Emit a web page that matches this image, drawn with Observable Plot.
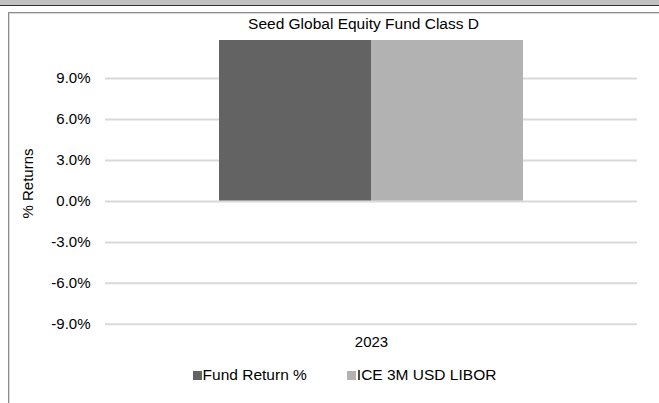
<!DOCTYPE html>
<html>
<head>
<meta charset="utf-8">
<script src="https://cdn.jsdelivr.net/npm/d3@7"></script>
<script src="https://cdn.jsdelivr.net/npm/@observablehq/plot@0.6"></script>
<style>
  html, body { margin: 0; padding: 0; background: #fff; }
  body { width: 659px; height: 403px; position: relative; overflow: hidden; font-family: "Liberation Sans", Arial, sans-serif; }
  #band { position: absolute; left: 0; top: 0; width: 659px; height: 5px; background: #c0c0c0; border-bottom: 1px solid #303030; }
  #frame { position: absolute; left: 8px; top: 12px; width: 660px; height: 400px; border-left: 1px solid #8c8c8c; border-top: 1px solid #8c8c8c; box-shadow: inset 1px 1px 0 #d8d8d8; }
  #title { position: absolute; left: 0; width: 659px; top: 15px; text-align: center; font-size: 15.5px; color: #000; padding-left: 68px; box-sizing: border-box; }
  #chart { position: absolute; left: 0; top: 0; width: 659px; height: 403px; }
  #legend { position: absolute; top: 366px; left: 0; width: 659px; display: flex; justify-content: center; font-size: 15.5px; color: #000; padding-left: 30px; box-sizing: border-box; }
  .item { display: flex; align-items: center; margin: 0 20px; }
  .sw { width: 9px; height: 9px; margin-right: 1px; }
</style>
</head>
<body>
<div id="band"></div>
<div id="frame"></div>
<div id="chart"></div>
<div id="title"></div>
<div id="legend"></div>
<script>
const title = "Seed Global Equity Fund Class D";
const years = ["2023"];
const series = ["Fund Return %", "ICE 3M USD LIBOR"];
const colors = ["#636363", "#b2b2b2"];
// Both bars run past the top of the axis (clipped at about 11.8%)
const fundReturn = [11.8];
const libor = [11.8];
const yTicks = [-9, -6, -3, 0, 3, 6, 9];
const yDomain = [-9.45, 11.78];
const yLabel = "% Returns";

const data = [];
years.forEach((yr, i) => {
  data.push({year: yr, series: series[0], value: fundReturn[i]});
  data.push({year: yr, series: series[1], value: libor[i]});
});

const chart = Plot.plot({
  width: 659,
  height: 403,
  marginLeft: 105,
  marginRight: 22,
  marginTop: 40,
  marginBottom: 73,
  style: { fontFamily: "'Liberation Sans', Arial, sans-serif", fontSize: "15px", background: "transparent", color: "#000" },
  x: { domain: series, paddingInner: 0, paddingOuter: 0.744, axis: null },
  y: { domain: yDomain, ticks: yTicks, label: null, axis: null, clamp: true },
  color: { domain: series, range: colors },
  marks: [
    Plot.ruleY(yTicks.filter(d => d !== 0), { stroke: "#d9d9d9", strokeWidth: 2 }),
    Plot.barY(data, { x: "series", y: "value", fill: "series", clip: true }),
    Plot.ruleY([0], { stroke: "#d9d9d9", strokeWidth: 2 }),
    Plot.axisY(yTicks, { tickSize: 0, tickPadding: 15, tickFormat: d => d.toFixed(1) + "%", fontSize: 15, label: null }),
    Plot.text(years, { text: d => d, frameAnchor: "bottom", dy: 16, fontSize: 15, fill: "#000" }),
    Plot.text([yLabel], { frameAnchor: "left", textAnchor: "middle", dx: -77, dy: -2, rotate: -90, fontSize: 15, fill: "#000" })
  ]
});
document.getElementById("chart").appendChild(chart);
document.getElementById("title").textContent = title;

const legend = document.getElementById("legend");
series.forEach((s, i) => {
  const item = document.createElement("div");
  item.className = "item";
  const sw = document.createElement("span");
  sw.className = "sw";
  sw.style.background = colors[i];
  const label = document.createElement("span");
  label.textContent = s;
  item.appendChild(sw);
  item.appendChild(label);
  legend.appendChild(item);
});
</script>
</body>
</html>
